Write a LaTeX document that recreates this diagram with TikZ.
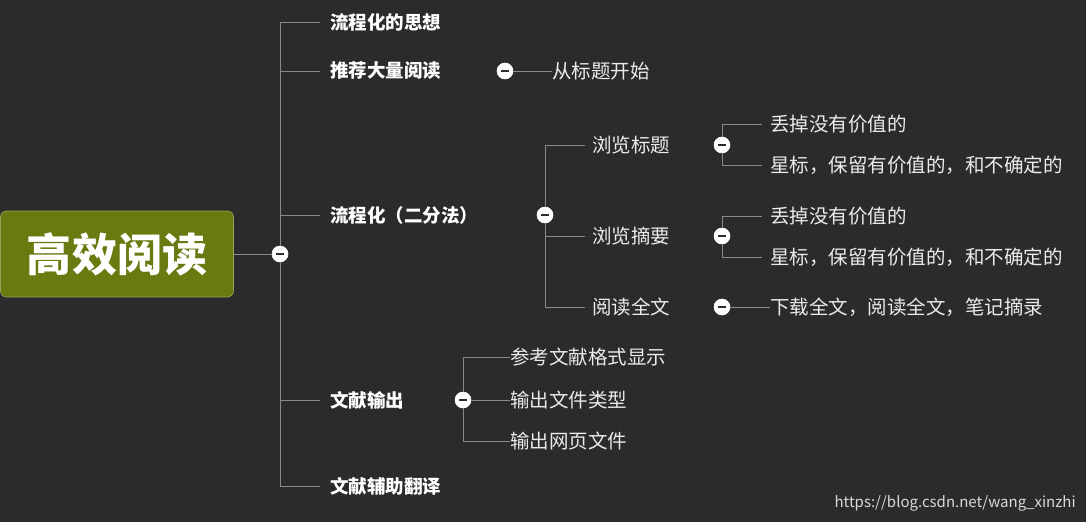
\documentclass[tikz,border=0pt]{standalone}
\usepackage{fontspec}
\setmainfont{Noto Sans CJK SC}
\usetikzlibrary{positioning}
\definecolor{bg}{HTML}{2B2B2B}
\definecolor{branch}{HTML}{8A8A8A}
\definecolor{rootfill}{HTML}{687A10}
\begin{document}
\begin{tikzpicture}[x=1pt,y=-1pt,semithick]
        \tikzset{topic/.style={text=white, font=\fontsize{18.5}{21}\selectfont\bfseries, anchor=west, inner sep=0pt},
                 sub/.style={text=white!92!black, font=\fontsize{19.5}{22}\selectfont, anchor=west, inner sep=0pt},
                 fold/.style={circle, fill=white, draw=white, minimum size=16pt, inner sep=0pt,
                   path picture={\draw[bg, line width=1.6pt] ([xshift=-4pt]path picture bounding box.center) -- ([xshift=4pt]path picture bounding box.center);}},
                 link/.style={draw=branch, line width=1pt}}
        \fill[bg] (0,0) rectangle (1086,522);
        \clip (0,0) rectangle (1086,522);

        \node[fill=rootfill, draw=rootfill!70!white, rounded corners=6pt, minimum width=233pt, minimum height=86pt, text=white, font=\fontsize{45}{48}\selectfont\bfseries] (root) at (117,254) {高效阅读};
        \node[fold] (f0) at (280,254) {};

        % first level
        \node[topic] (t1) at (330,22)  {流程化的思想};
        \node[topic] (t2) at (330,71)  {推荐大量阅读};
        \node[topic] (t3) at (330,215) {流程化（二分法）};
        \node[topic] (t4) at (330,400) {文献输出};
        \node[topic] (t5) at (330,486) {文献辅助翻译};
        \draw[link] (root.east) -- (f0);
        \draw[link] (f0) -- (280,22) -- (320,22);
        \draw[link] (280,71) -- (320,71);
        \draw[link] (280,215) -- (320,215);
        \draw[link] (280,400) -- (320,400);
        \draw[link] (f0) -- (280,486) -- (320,486);

        % 推荐大量阅读
        \node[fold] (f2) at (505,71) {};
        \node[sub] (s21) at (552,71) {从标题开始};
        \draw[link] (f2) -- (s21.west);

        % 流程化（二分法）
        \node[fold] (f3) at (545,215) {};
        \node[sub] (s31) at (592,145) {浏览标题};
        \node[sub] (s32) at (592,236) {浏览摘要};
        \node[sub] (s33) at (592,307) {阅读全文};
        \draw[link] (f3) -- (545,145) -- (585,145);
        \draw[link] (f3) -- (545,307) -- (585,307);
        \draw[link] (545,236) -- (585,236);

        \node[fold] (f31) at (722,145) {};
        \node[sub] (a1) at (770,124) {丢掉没有价值的};
        \node[sub] (a2) at (770,165) {星标，保留有价值的，和不确定的};
        \draw[link] (f31) -- (722,124) -- (762,124);
        \draw[link] (f31) -- (722,165) -- (762,165);

        \node[fold] (f32) at (722,236) {};
        \node[sub] (b1) at (770,216) {丢掉没有价值的};
        \node[sub] (b2) at (770,257) {星标，保留有价值的，和不确定的};
        \draw[link] (f32) -- (722,216) -- (762,216);
        \draw[link] (f32) -- (722,257) -- (762,257);

        \node[fold] (f33) at (722,307) {};
        \node[sub] (c1) at (770,307) {下载全文，阅读全文，笔记摘录};
        \draw[link] (f33) -- (c1.west);

        % 文献输出
        \node[fold] (f4) at (463,400) {};
        \node[sub] (d1) at (510,357) {参考文献格式显示};
        \node[sub] (d2) at (510,400) {输出文件类型};
        \node[sub] (d3) at (510,441) {输出网页文件};
        \draw[link] (f4) -- (463,357) -- (d1.west);
        \draw[link] (f4) -- (d2.west);
        \draw[link] (f4) -- (463,441) -- (d3.west);

        \node[anchor=east, text=white!85!black, font=\fontsize{15}{17}\selectfont, inner sep=0pt] (mark) at (1076,503) {https://blog.csdn.net/wang\_xinzhi};
\end{tikzpicture}
\end{document}
